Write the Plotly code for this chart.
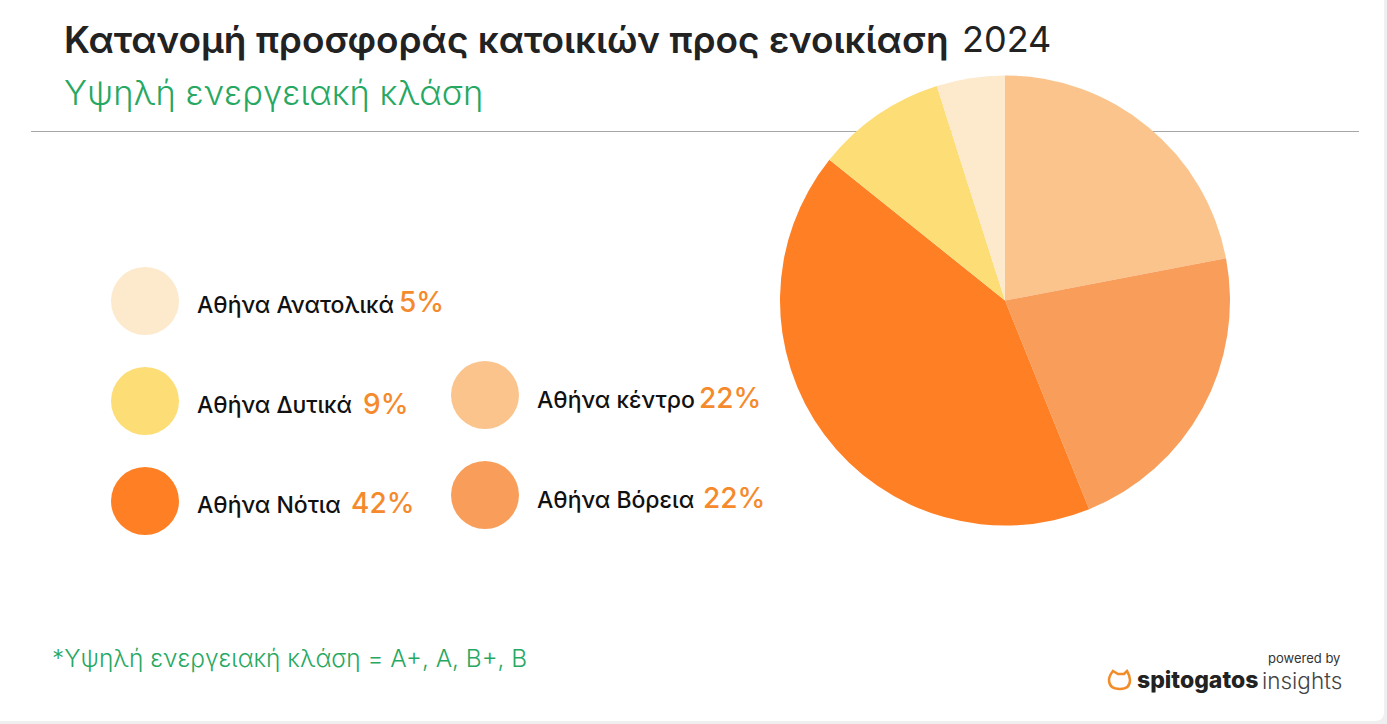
import plotly.graph_objects as go

# Values
regions = ["Αθήνα κέντρο", "Αθήνα Βόρεια", "Αθήνα Νότια", "Αθήνα Δυτικά", "Αθήνα Ανατολικά"]
slice_sizes = [22, 21.9, 41.85, 9.35, 4.9]  # slice angles measured off the pie
shares = [22, 22, 42, 9, 5]  # printed labels
colors = ["#FAC48C", "#F89E5A", "#FF7F24", "#FDDD75", "#FDE9CB"]

W, H = 1387, 724
FONT = "Inter, Noto Sans, sans-serif"


def px(x):
    return x / W


def py(y):
    return 1 - y / H


fig = go.Figure()
fig.add_trace(go.Pie(
    labels=regions, values=slice_sizes, sort=False, direction="clockwise", rotation=0,
    marker=dict(colors=colors, line=dict(width=0)),
    textinfo="none", hoverinfo="label+percent", showlegend=False,
    domain=dict(x=[px(780), px(1230)], y=[py(526), py(75)]),
))

# white card with a rounded lower right corner on the grey page
card = (f"M0,{py(721):.5f} L{px(1375):.5f},{py(721):.5f} "
        f"Q{px(1384):.5f},{py(721):.5f} {px(1384):.5f},{py(712):.5f} "
        f"L{px(1384):.5f},1 L0,1 Z")
logo = (f"M{px(1113):.5f},{py(671):.5f} L{px(1118):.5f},{py(674):.5f} "
        f"L{px(1124):.5f},{py(674):.5f} L{px(1127):.5f},{py(671):.5f} "
        f"Q{px(1130):.5f},{py(676):.5f} {px(1130):.5f},{py(680):.5f} "
        f"Q{px(1130):.5f},{py(689):.5f} {px(1120):.5f},{py(689):.5f} "
        f"Q{px(1109):.5f},{py(689):.5f} {px(1109):.5f},{py(680):.5f} "
        f"Q{px(1109):.5f},{py(676):.5f} {px(1113):.5f},{py(671):.5f} Z")

shapes = [
    dict(type="path", path=card, fillcolor="white", line_width=0, layer="below"),
    dict(type="line", xref="paper", yref="paper", x0=px(31), x1=px(1359), y0=py(131.5), y1=py(131.5),
         line=dict(color="#A6A6A6", width=1), layer="below"),
    dict(type="path", path=logo, fillcolor="rgba(0,0,0,0)", line=dict(color="#F28C28", width=2.5)),
]

# legend: circle centre x, y, label position, percent position
legend_pos = [
    (485, 395, 538, 400, 700, 398),
    (485, 495, 538, 500, 704, 498),
    (145, 501, 198, 505, 352, 503),
    (145, 401, 198, 405, 364, 404),
    (145, 301, 198, 305, 400, 302),
]
annotations = []
for name, val, col, (cx, cy, lx, ly, vx, vy) in zip(regions, shares, colors, legend_pos):
    shapes.append(dict(type="circle", xref="paper", yref="paper",
                       x0=px(cx - 34), x1=px(cx + 34), y0=py(cy + 34), y1=py(cy - 34),
                       fillcolor=col, line_width=0))
    annotations.append(dict(x=px(lx), y=py(ly), text=name,
                            font=dict(size=23, color="#111111", weight=500)))
    annotations.append(dict(x=px(vx), y=py(vy), text=f"{val}%",
                            font=dict(size=28, color="#F58A2C", weight=500)))

annotations += [
    dict(x=px(65), y=py(39), text="Κατανομή προσφοράς κατοικιών προς ενοικίαση",
         font=dict(size=37, color="#222222", weight=600)),
    dict(x=px(963), y=py(39), text="2024", font=dict(size=36, color="#222222")),
    dict(x=px(65), y=py(92), text="Υψηλή ενεργειακή κλάση",
         font=dict(size=34.5, color="#27A862", weight=300)),
    dict(x=px(53), y=py(658), text="*Υψηλή ενεργειακή κλάση = A+, A, B+, B",
         font=dict(size=24.4, color="#27A862", weight=300)),
    dict(x=px(1342), y=py(658), text="powered by", xanchor="right", font=dict(size=13, color="#333333")),
    dict(x=px(1138), y=py(680), text="spitogatos", font=dict(size=23, color="#222222", weight=800)),
    dict(x=px(1344), y=py(680), text="insights", xanchor="right",
         font=dict(size=22.5, color="#444444", weight=300)),
]
for a in annotations:
    a.update(xref="paper", yref="paper", showarrow=False)
    if "xanchor" not in a:
        a["xanchor"] = "left"
        a["xshift"] = -3
    a["yanchor"] = "middle"

fig.update_layout(
    width=W, height=H, margin=dict(l=0, r=0, t=0, b=0),
    paper_bgcolor="#EFEFEF", font=dict(family=FONT),
    shapes=shapes, annotations=annotations,
)
fig.write_html("out.html", config=dict(displayModeBar=False),
               post_script="document.body.style.margin = '0';")
